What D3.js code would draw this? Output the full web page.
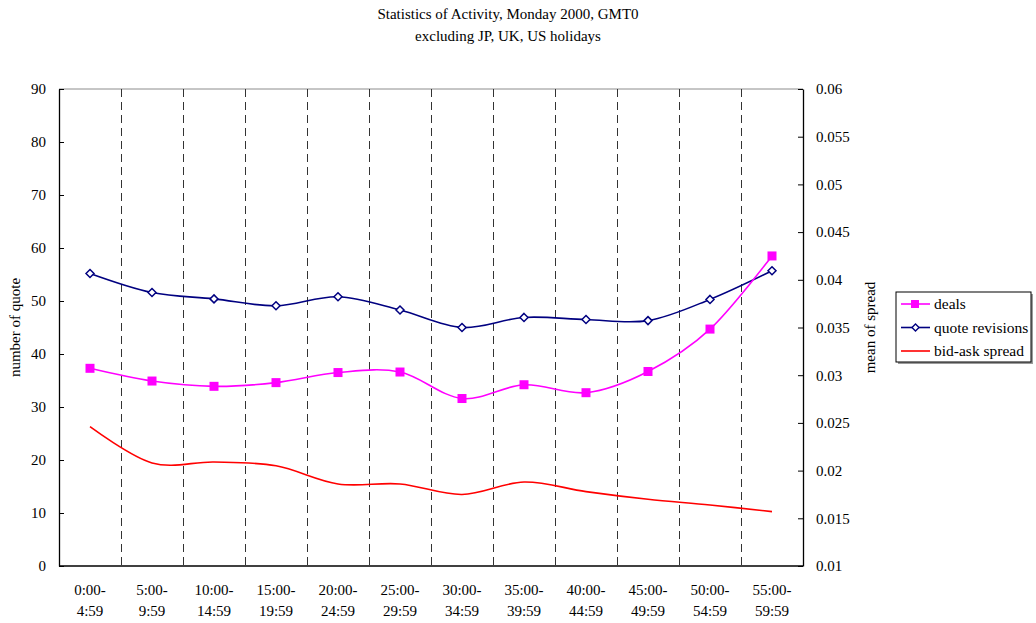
<!DOCTYPE html>
<html>
<head>
<meta charset="utf-8">
<script src="https://cdn.jsdelivr.net/npm/d3@7"></script>
<style>
  html, body { margin: 0; padding: 0; background: #fff; }
  svg { display: block; font-family: "Liberation Serif", "Times New Roman", serif; }
</style>
</head>
<body>
<svg id="chart" width="1036" height="623"></svg>
<script>
// ---- data ----
const slotStart = ['0:00', '5:00', '10:00', '15:00', '20:00', '25:00', '30:00', '35:00', '40:00', '45:00', '50:00', '55:00'];
const slotEnd   = ['4:59', '9:59', '14:59', '19:59', '24:59', '29:59', '34:59', '39:59', '44:59', '49:59', '54:59', '59:59'];
const deals     = [37.3, 34.9, 33.9, 34.6, 36.5, 36.6, 31.6, 34.2, 32.7, 36.7, 44.7, 58.5];
const revisions = [55.2, 51.6, 50.4, 49.1, 50.8, 48.3, 45.0, 46.9, 46.5, 46.3, 50.3, 55.7];
const spread    = [0.0246, 0.0208, 0.0209, 0.0205, 0.0186, 0.0186, 0.0175, 0.0188, 0.0178, 0.0170, 0.0164, 0.0157];
const leftTicks  = [0, 10, 20, 30, 40, 50, 60, 70, 80, 90];
const rightTicks = [0.01, 0.015, 0.02, 0.025, 0.03, 0.035, 0.04, 0.045, 0.05, 0.055, 0.06];

const L = 59, R = 803, T = 89, B = 566;
const svg = d3.select('#chart');

const x = d3.scaleBand().domain(slotStart).range([L, R]);
const cx = d => x(d) + x.bandwidth() / 2;
const yL = d3.scaleLinear().domain([0, 90]).range([B, T]);
const yR = d3.scaleLinear().domain([0.01, 0.06]).range([B, T]);

// title
const title = svg.append('g').attr('font-size', 15).attr('text-anchor', 'middle').attr('fill', '#000');
title.append('text').attr('x', 508).attr('y', 19).text('Statistics of Activity, Monday 2000, GMT0');
title.append('text').attr('x', 508).attr('y', 41).text('excluding JP, UK, US holidays');

// frame: top edge gray, bottom black
svg.append('line').attr('x1', L).attr('x2', R).attr('y1', T).attr('y2', T)
  .attr('stroke', '#8c8c8c').attr('stroke-width', 1);
svg.append('line').attr('x1', L).attr('x2', R).attr('y1', B).attr('y2', B)
  .attr('stroke', '#000').attr('stroke-width', 1.3);

// dashed separators between slots
svg.append('g').attr('shape-rendering', 'crispEdges')
  .selectAll('line').data(slotStart.slice(1)).join('line')
  .attr('x1', d => x(d) + 0.5).attr('x2', d => x(d) + 0.5).attr('y1', T).attr('y2', B)
  .attr('stroke', '#333').attr('stroke-width', 1).attr('stroke-dasharray', '8,5');

// axes
const gl = svg.append('g').attr('transform', `translate(${L},0)`)
  .call(d3.axisLeft(yL).tickValues(leftTicks).tickSizeInner(-5).tickSizeOuter(0).tickPadding(13));
const gr = svg.append('g').attr('transform', `translate(${R},0)`)
  .call(d3.axisRight(yR).tickValues(rightTicks).tickSizeInner(-5).tickSizeOuter(0).tickPadding(13)
    .tickFormat(d => String(+d.toFixed(3))));
[gl, gr].forEach(g => {
  g.select('.domain').attr('stroke', '#000').attr('stroke-width', 1.3);
  g.selectAll('.tick line').attr('stroke', '#000');
  g.selectAll('.tick text').attr('font-size', 15).attr('fill', '#000')
    .attr('font-family', '"Liberation Serif", "Times New Roman", serif');
});

// x labels (two lines)
const xl = svg.append('g').attr('font-size', 15).attr('text-anchor', 'middle').attr('fill', '#000');
xl.selectAll('text.a').data(slotStart).join('text').attr('class', 'a')
  .attr('x', d => cx(d)).attr('y', 595).text(d => d + '-');
xl.selectAll('text.b').data(slotEnd).join('text').attr('class', 'b')
  .attr('x', (d, i) => cx(slotStart[i])).attr('y', 616).text(d => d);

// axis titles
svg.append('text').attr('transform', `translate(20,${(T + B) / 2}) rotate(-90)`)
  .attr('text-anchor', 'middle').attr('font-size', 15).text('number of quote');
svg.append('text').attr('transform', `translate(875,${(T + B) / 2}) rotate(-90)`)
  .attr('text-anchor', 'middle').attr('font-size', 15).text('mean of spread');

// lines
const curve = d3.curveCardinal.tension(0);
const lineL = d3.line().x((d, i) => cx(slotStart[i])).y(d => yL(d)).curve(curve);
const lineR = d3.line().x((d, i) => cx(slotStart[i])).y(d => yR(d)).curve(curve);

svg.append('path').attr('d', lineR(spread)).attr('fill', 'none').attr('stroke', '#ff0000').attr('stroke-width', 1.6);
svg.append('path').attr('d', lineL(revisions)).attr('fill', 'none').attr('stroke', '#000080').attr('stroke-width', 1.6);
svg.append('path').attr('d', lineL(deals)).attr('fill', 'none').attr('stroke', '#ff00ff').attr('stroke-width', 1.6);

// markers
svg.append('g').selectAll('path').data(revisions).join('path')
  .attr('transform', (d, i) => `translate(${cx(slotStart[i])},${yL(d)})`)
  .attr('d', 'M0,-4L4,0L0,4L-4,0Z')
  .attr('fill', '#fff').attr('stroke', '#000080').attr('stroke-width', 1.5);
svg.append('g').selectAll('rect').data(deals).join('rect')
  .attr('x', (d, i) => cx(slotStart[i]) - 4.5).attr('y', d => yL(d) - 4.5)
  .attr('width', 9).attr('height', 9).attr('fill', '#ff00ff');

// legend
const lg = svg.append('g').attr('transform', 'translate(896,292)');
lg.append('rect').attr('x', 2).attr('y', 2).attr('width', 135).attr('height', 70).attr('fill', '#9a9a9a');
lg.append('rect').attr('width', 135).attr('height', 70).attr('fill', '#fff').attr('stroke', '#000').attr('stroke-width', 1);
const items = [
  { name: 'deals', color: '#ff00ff', mark: 'square' },
  { name: 'quote revisions', color: '#000080', mark: 'diamond' },
  { name: 'bid-ask spread', color: '#ff0000', mark: null },
];
items.forEach((it, i) => {
  const yy = 12 + i * 23.5;
  lg.append('line').attr('x1', 5).attr('x2', 34).attr('y1', yy).attr('y2', yy)
    .attr('stroke', it.color).attr('stroke-width', 1.6);
  if (it.mark === 'square') {
    lg.append('rect').attr('x', 15).attr('y', yy - 4).attr('width', 8).attr('height', 8).attr('fill', it.color);
  } else if (it.mark === 'diamond') {
    lg.append('path').attr('transform', `translate(19.5,${yy})`).attr('d', 'M0,-3.5L3.5,0L0,3.5L-3.5,0Z')
      .attr('fill', '#fff').attr('stroke', it.color).attr('stroke-width', 1.4);
  }
  lg.append('text').attr('x', 38).attr('y', yy + 5).attr('font-size', 15.5).text(it.name);
});
</script>
</body>
</html>
